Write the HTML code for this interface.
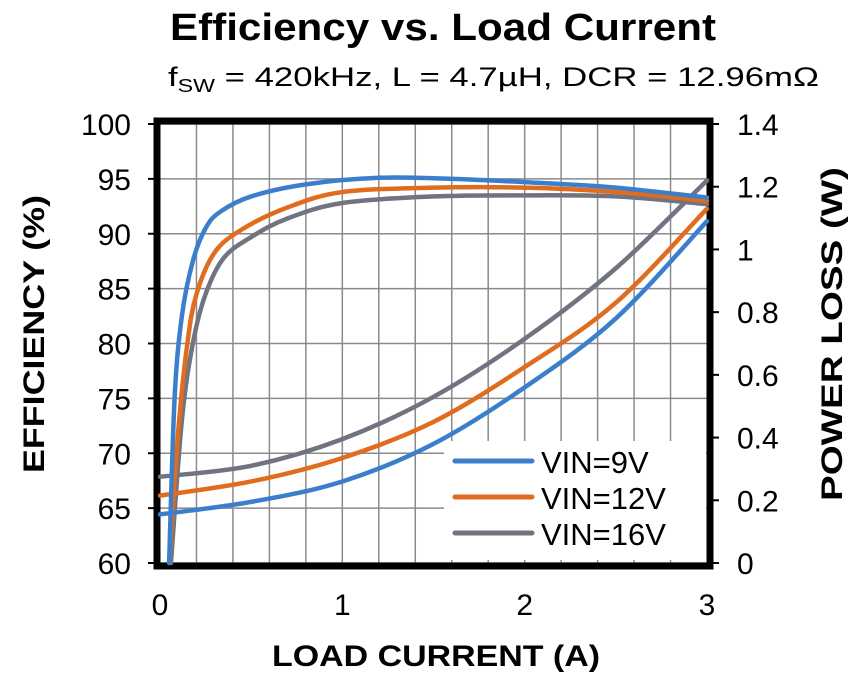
<!DOCTYPE html>
<html><head><meta charset="utf-8"><style>
html,body{margin:0;padding:0;background:#fff;}
svg{display:block;font-family:"Liberation Sans",Arial,sans-serif;}
</style></head><body>
<svg id="chart" width="858" height="682" viewBox="0 0 858 682">
<text x="443" y="40" text-anchor="middle" font-size="38" font-weight="bold" textLength="546" lengthAdjust="spacingAndGlyphs">Efficiency vs. Load Current</text>
<text x="168" y="86" font-size="27" textLength="651" lengthAdjust="spacingAndGlyphs">f<tspan font-size="18" dy="6">SW</tspan><tspan dy="-6"> = 420kHz, L = 4.7µH, DCR = 12.96mΩ</tspan></text>
<g id="grid"></g>
<g id="axes"></g>
<g id="series"></g>
<g id="legend"></g>
<text x="436" y="666" text-anchor="middle" font-size="30" font-weight="bold" textLength="328" lengthAdjust="spacingAndGlyphs">LOAD CURRENT  (A)</text>
<text transform="translate(44,334) rotate(-90)" text-anchor="middle" font-size="30" font-weight="bold" textLength="278" lengthAdjust="spacingAndGlyphs">EFFICIENCY  (%)</text>
<text transform="translate(842,334) rotate(-90)" text-anchor="middle" font-size="30" font-weight="bold" textLength="334" lengthAdjust="spacingAndGlyphs">POWER LOSS (W)</text>
</svg>
<script>
const xTicks = [0, 1, 2, 3];
const effTicks = [60, 65, 70, 75, 80, 85, 90, 95, 100];
const lossTicks = [0, 0.2, 0.4, 0.6, 0.8, 1, 1.2, 1.4];
const seriesNames = ["VIN=9V", "VIN=12V", "VIN=16V"];
const effI9 = [0.05, 0.08, 0.12, 0.18, 0.25, 0.33, 0.5, 0.8, 1.2, 1.6, 2.0, 2.5, 3.0];
const eff9 = [60, 75, 82.5, 87.5, 90.5, 92, 93.4, 94.5, 95.1, 95.0, 94.7, 94.2, 93.3];
const effI12 = [0.05, 0.1, 0.15, 0.2, 0.3, 0.45, 0.7, 1.0, 1.5, 2.0, 2.5, 3.0];
const eff12 = [60, 72, 80, 84.5, 88.3, 90.4, 92.4, 93.8, 94.2, 94.2, 93.8, 93.0];
const effI16 = [0.06, 0.12, 0.18, 0.25, 0.35, 0.5, 0.7, 1.0, 1.5, 2.0, 2.5, 3.0];
const eff16 = [60, 73, 80, 84.5, 87.8, 89.7, 91.4, 92.8, 93.4, 93.5, 93.4, 92.7];
const lossI = [0, 0.5, 1, 1.5, 2, 2.5, 3];
const loss9 = [0.155, 0.195, 0.26, 0.38, 0.56, 0.78, 1.09];
const loss12 = [0.215, 0.26, 0.335, 0.45, 0.625, 0.83, 1.13];
const loss16 = [0.275, 0.31, 0.395, 0.53, 0.715, 0.94, 1.22];

const NS = "http://www.w3.org/2000/svg";
const L = 160, R = 707, T = 124, B = 563;
const xS = v => L + v / 3 * (R - L);
const yE = v => B - (v - 60) / 40 * (B - T);
const yP = v => B - v / 1.4 * (B - T);
function mk(tag, attrs, parent) {
  const e = document.createElementNS(NS, tag);
  for (const k in attrs) e.setAttribute(k, attrs[k]);
  parent.appendChild(e);
  return e;
}
const grid = document.getElementById('grid');
const axes = document.getElementById('axes');
const series = document.getElementById('series');
const legend = document.getElementById('legend');

for (let i = 1; i < 15; i++) {
  const x = xS(i * 0.2);
  const ln = mk('line', {x1: x, x2: x, y1: T, y2: B, stroke: '#8a8a8a', 'stroke-width': 1.5}, grid);
  
  
}
effTicks.forEach(v => {
  const y = yE(v);
  const ln = mk('line', {x1: L, x2: R, y1: y, y2: y, stroke: '#8a8a8a', 'stroke-width': 1.5}, grid);
  
  
  const tk = mk('line', {x1: L - 12, x2: L, y1: y, y2: y, stroke: '#000', 'stroke-width': 2}, axes);
  
  
  const t = mk('text', {x: 131, y: y + 11, 'text-anchor': 'end', 'font-size': 30}, axes);
  t.textContent = v;
  
  
});
lossTicks.forEach(v => {
  const y = yP(v);
  const tk = mk('line', {x1: R, x2: R + 12, y1: y, y2: y, stroke: '#000', 'stroke-width': 2}, axes);
  
  
  const t = mk('text', {x: 737, y: y + 11, 'font-size': 30}, axes);
  t.textContent = v;
  
  
});
xTicks.forEach(v => {
  const t = mk('text', {x: xS(v), y: 615, 'text-anchor': 'middle', 'font-size': 30}, axes);
  t.textContent = v;
  
  
});
const lb = mk('rect', {x: 444, y: 441, width: 262, height: 119, fill: '#fff'}, grid);


const frame = mk('rect', {x: L - 3, y: T - 3, width: R - L + 6, height: B - T + 6, fill: 'none', stroke: '#000', 'stroke-width': 7}, axes);



function pathD(xs, ys, fy) {
  const p = xs.map((x, i) => [xS(x), fy(ys[i])]);
  let d = 'M' + p[0][0] + ',' + p[0][1];
  for (let i = 0; i < p.length - 1; i++) {
    const p0 = p[i - 1] || p[i], p1 = p[i], p2 = p[i + 1], p3 = p[i + 2] || p2;
    const c1 = [p1[0] + (p2[0] - p0[0]) / 6, p1[1] + (p2[1] - p0[1]) / 6];
    const c2 = [p2[0] - (p3[0] - p1[0]) / 6, p2[1] - (p3[1] - p1[1]) / 6];
    d += ' C' + c1.join(',') + ' ' + c2.join(',') + ' ' + p2.join(',');
  }
  return d;
}
const colors = ['#3b7fcc', '#e06c1e', '#6f7480'];
const effX = [effI9, effI12, effI16], effY = [eff9, eff12, eff16], lossY = [loss9, loss12, loss16];
[2, 1, 0].forEach(i => {
  const p = mk('path', {d: pathD(lossI, lossY[i], yP), fill: 'none', stroke: colors[i], 'stroke-width': 4.5, 'stroke-linecap': 'round'}, series);
  
  
  const e = mk('path', {d: pathD(effX[i], effY[i], yE), fill: 'none', stroke: colors[i], 'stroke-width': 4.5, 'stroke-linecap': 'round'}, series);
  
  
});
seriesNames.forEach((n, i) => {
  const y = 461 + i * 36;
  const ln = mk('line', {x1: 455, x2: 532, y1: y, y2: y, stroke: colors[i], 'stroke-width': 5, 'stroke-linecap': 'round'}, legend);
  
  
  const t = mk('text', {x: 541, y: y + 12, 'font-size': 31}, legend);
  t.textContent = n;
  
  
});
</script>
</body></html>
